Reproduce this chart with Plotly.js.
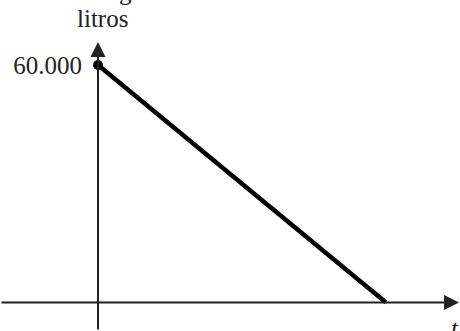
<!DOCTYPE html>
<html>
<head>
<meta charset="utf-8">
<script src="https://cdn.plot.ly/plotly-3.0.1.min.js"></script>
<style>html,body{margin:0;padding:0;background:#fff;}#chart{width:460px;height:331px;}</style>
</head>
<body>
<div id="chart"></div>
<script>
// Data
const tValues = [0, 10];
const litrosValues = [60000, 0];
const yTickVals = [60000];
const yTickText = ['60.000'];
const yAxisLabel = 'litros';
const xAxisLabel = 't';

// Axis ranges (pixel mapping: x=0 at 98px, x=10 at 386px; y=0 at 302.5px, y=60000 at 65px)
const pxPerX = 28.8;
const pxPerY = 237.5 / 60000;
const xRange = [-98 / pxPerX, (460 - 98) / pxPerX];
const yRange = [-(331 - 302.5) / pxPerY, 302.5 / pxPerY];
const xTip = (459 - 98) / pxPerX;
const yTip = (302.5 - 42) / pxPerY;

const FONT = 'Liberation Serif, Times New Roman, serif';
const axisColor = '#222';

const traces = [{
  x: tValues,
  y: litrosValues,
  mode: 'lines',
  line: {color: '#000', width: 4.5},
  hoverinfo: 'skip',
  showlegend: false,
  cliponaxis: false
}, {
  x: [tValues[0]],
  y: [litrosValues[0]],
  mode: 'markers',
  marker: {color: '#000', size: 10, line: {width: 0}},
  hoverinfo: 'skip',
  showlegend: false,
  cliponaxis: false
}];

const layout = {
  width: 460, height: 331,
  margin: {l: 0, r: 0, t: 0, b: 0, pad: 0},
  paper_bgcolor: '#fff', plot_bgcolor: '#fff',
  font: {family: FONT, color: '#222', size: 25},
  showlegend: false,
  xaxis: {range: xRange, showgrid: false, zeroline: false, showline: false,
          showticklabels: false, ticks: '', fixedrange: true},
  yaxis: {range: yRange, showgrid: false, zeroline: false, showline: false,
          anchor: 'free', position: 98 / 460, side: 'left',
          tickvals: yTickVals, ticktext: yTickText, ticks: '',
          ticklabelstandoff: 16,
          tickfont: {family: FONT, size: 25, color: '#222'}, fixedrange: true},
  annotations: [
    // x axis with arrow
    {x: xTip, y: 0, ax: xRange[0], ay: 0, xref: 'x', yref: 'y', axref: 'x', ayref: 'y',
     text: '', showarrow: true, arrowhead: 2, arrowsize: 1.5, arrowwidth: 2, arrowcolor: axisColor},
    // y axis with arrow
    {x: 0, y: yTip, ax: 0, ay: yRange[0], xref: 'x', yref: 'y', axref: 'x', ayref: 'y',
     text: '', showarrow: true, arrowhead: 2, arrowsize: 1.5, arrowwidth: 2, arrowcolor: axisColor},
    // y axis label
    {x: 102.5 / 460, y: 1, xref: 'paper', yref: 'paper', xanchor: 'center', yanchor: 'top',
     yshift: -3, text: yAxisLabel, showarrow: false, font: {family: FONT, size: 25, color: '#222'}},
    // x axis label
    {x: 455 / 460, y: 0, xref: 'paper', yref: 'paper', xanchor: 'center', yanchor: 'bottom',
     yshift: -13, text: '<i>' + xAxisLabel + '</i>', showarrow: false,
     font: {family: FONT, size: 25, color: '#222'}},
    // cut-off text fragment at the very top
    {x: 125 / 460, y: 1, xref: 'paper', yref: 'paper', xanchor: 'center', yanchor: 'bottom',
     yshift: -7, text: 'g', showarrow: false, font: {family: FONT, size: 25, color: '#222'}}
  ]
};

Plotly.newPlot('chart', traces, layout, {displayModeBar: false, staticPlot: true});
</script>
</body>
</html>
